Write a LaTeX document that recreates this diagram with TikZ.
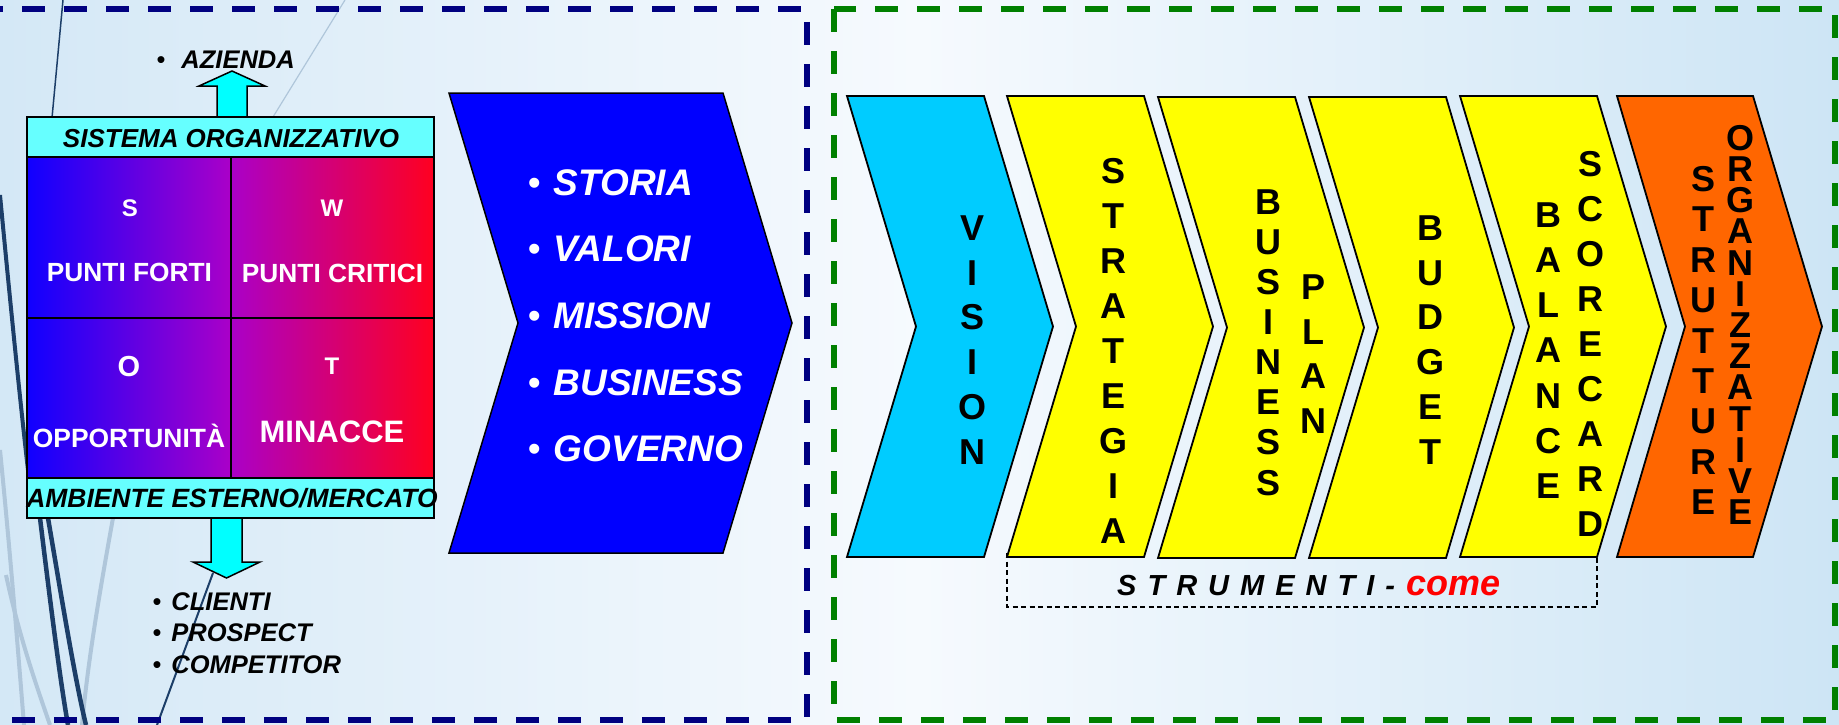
\documentclass[tikz,border=0pt]{standalone}
\usepackage{fontspec}
\setmainfont{Liberation Sans}
\definecolor{bgL}{RGB}{212,232,246}
\definecolor{bgM}{RGB}{246,250,254}
\definecolor{bgR}{RGB}{205,229,245}
\definecolor{navyd}{RGB}{0,0,128}
\definecolor{greend}{RGB}{0,128,0}
\definecolor{cyanbox}{RGB}{102,255,255}
\definecolor{cyanarrow}{RGB}{0,255,255}
\definecolor{visionc}{RGB}{0,204,255}
\definecolor{orangec}{RGB}{255,102,0}
\definecolor{yellowc}{RGB}{255,255,0}
\definecolor{bluec}{RGB}{0,0,255}
\definecolor{swotL}{RGB}{16,0,255}
\definecolor{swotM}{RGB}{170,0,200}
\definecolor{swotR}{RGB}{255,0,32}
\definecolor{decodark}{RGB}{28,62,104}
\definecolor{decolight}{RGB}{175,198,218}
\definecolor{redc}{RGB}{255,0,0}
\begin{document}
\begin{tikzpicture}[x=1pt,y=-1pt,
  chev/.style={draw=black,line width=1.8pt,line join=miter},
  vtxt/.style={font=\bfseries\fontsize{36}{#1}\selectfont,align=center,inner sep=0pt,text=black},
  capbox/.style={draw=black,line width=2pt,fill=cyanbox},
  capt/.style={font=\bfseries\itshape\fontsize{#1}{28}\selectfont,inner sep=0pt,anchor=base},
  swott/.style={font=\bfseries\fontsize{#1}{30}\selectfont,text=white,inner sep=0pt,anchor=base},
  listt/.style={font=\bfseries\itshape\fontsize{25.5}{30}\selectfont,inner sep=0pt,anchor=base west},
  biglist/.style={font=\bfseries\itshape\fontsize{37}{40}\selectfont,text=white,inner sep=0pt,anchor=base west},
  bigarrow/.style={draw=black,line width=1.5pt,fill=cyanarrow,line join=miter},
  frame/.style={line width=5.5pt,dash pattern=on 23pt off 19pt}
]
\useasboundingbox (0,0) rectangle (1839,725);
% background
\shade[left color=bgL,right color=bgR,middle color=bgM] (0,0) rectangle (1839,725);
% decorative lines
\draw[decolight,line width=4pt] (0,450) .. controls (10,550) and (18,650) .. (24,725);
\draw[decolight,line width=4pt] (6,575) .. controls (20,640) and (38,690) .. (50,725);
\draw[decolight,line width=4pt] (113,518) .. controls (100,590) and (88,660) .. (82,725);
\draw[decolight,line width=1.2pt] (345,0) -- (273,117);
\draw[decodark,line width=1.5pt] (63,0) -- (52,118);
\draw[decodark,line width=4pt] (0,195) .. controls (10,300) and (20,400) .. (28,470);
\draw[decodark,line width=4.5pt] (40,518) .. controls (50,600) and (60,680) .. (68,725);
\draw[decodark,line width=4.5pt] (48,518) .. controls (62,600) and (75,680) .. (86,725);
\draw[decodark,line width=2pt] (213,573) -- (157,725);
% frames
\draw[navyd,frame] (-20,9) -- (807,9) -- (807,720) -- (-20,720);
\draw[greend,frame] (834,9) rectangle (1835,720);
% SWOT
\draw[bigarrow] (217,118) -- (217,86) -- (199,86) -- (232,71) -- (265,86) -- (247,86) -- (247,118) -- cycle;
\draw[bigarrow] (211,517) -- (211,562) -- (193,562) -- (226.5,578) -- (260,562) -- (242,562) -- (242,517) -- cycle;
\draw[capbox] (27,117) rectangle (434,157);
\draw[capbox] (27,478) rectangle (434,518);
\shade[left color=swotL,right color=swotR,middle color=swotM] (27,157) rectangle (434,478);
\draw[line width=2.5pt] (27,157) rectangle (434,478);
\draw[line width=2.5pt] (231,157) -- (231,478);
\draw[line width=2.5pt] (27,318) -- (434,318);
\node[capt=26] (sis) at (231,147.3) {SISTEMA ORGANIZZATIVO};
\node[capt=26.4] (amb) at (232,507.7) {AMBIENTE ESTERNO/MERCATO};
\node[swott=24] (s) at (130,216.7) {S};
\node[swott=24] (w) at (332,216.7) {W};
\node[swott=29] (o) at (129,376) {O};
\node[swott=24] (t) at (332,374) {T};
\node[swott=26.3] (pf) at (129.5,281.7) {PUNTI FORTI};
\node[swott=26.3] (pc) at (332.5,282) {PUNTI CRITICI};
\node[swott=26.4] (op) at (129,447.3) {OPPORTUNITÀ};
\node[swott=31] (mi) at (332,442.7) {MINACCE};
\node[listt] (az) at (156.3,68.3) {{\upshape\mdseries\textbullet}\hspace{16pt}AZIENDA};
\node[listt] (cl) at (152.3,610) {{\upshape\mdseries\textbullet}\hspace{10pt}CLIENTI};
\node[listt] (pr) at (152.3,641.7) {{\upshape\mdseries\textbullet}\hspace{10pt}PROSPECT};
\node[listt] (co) at (152.3,673.3) {{\upshape\mdseries\textbullet}\hspace{10pt}COMPETITOR};
% blue chevron
\draw[chev,fill=bluec,line width=1.5pt] (449,93) -- (723,93) -- (792,323) -- (723,553) -- (449,553) -- (518,323) -- cycle;
\node[biglist] (st) at (527.7,195) {{\upshape\mdseries\textbullet}\hspace{13pt}STORIA};
\node[biglist] (va) at (527.7,261.7) {{\upshape\mdseries\textbullet}\hspace{13pt}VALORI};
\node[biglist] (mis) at (527.7,328.3) {{\upshape\mdseries\textbullet}\hspace{13pt}MISSION};
\node[biglist] (bu) at (527.7,395) {{\upshape\mdseries\textbullet}\hspace{13pt}BUSINESS};
\node[biglist] (go) at (527.7,461.7) {{\upshape\mdseries\textbullet}\hspace{13pt}GOVERNO};
% strumenti box (open top)
\draw[black,line width=1.2pt,dash pattern=on 5pt off 3.5pt] (1007,553) -- (1007,607) -- (1597,607) -- (1597,553);
% right chevrons
\draw[chev,fill=visionc] (847,96) -- (984,96) -- (1053,326.5) -- (984,557) -- (847,557) -- (916,326.5) -- cycle;
\draw[chev,fill=yellowc] (1007,96) -- (1144,96) -- (1213,326.5) -- (1144,557) -- (1007,557) -- (1076,326.5) -- cycle;
\draw[chev,fill=yellowc] (1158,97) -- (1295,97) -- (1364,327.5) -- (1295,558) -- (1158,558) -- (1227,327.5) -- cycle;
\draw[chev,fill=yellowc] (1309,97) -- (1446,97) -- (1514,327.5) -- (1446,558) -- (1309,558) -- (1378,327.5) -- cycle;
\draw[chev,fill=yellowc] (1460,96) -- (1597,96) -- (1666,326.5) -- (1597,557) -- (1460,557) -- (1529,326.5) -- cycle;
\draw[chev,fill=orangec] (1617,96) -- (1753,96) -- (1822,326.5) -- (1753,557) -- (1617,557) -- (1685,326.5) -- cycle;
% vertical texts
\node[vtxt=44.8] (vis) at (972,340) {V\\I\\S\\I\\O\\N};
\node[vtxt=45] (str) at (1113,351) {S\\T\\R\\A\\T\\E\\G\\I\\A};
\node[vtxt=40.1] (bus) at (1268,342.5) {B\\U\\S\\I\\N\\E\\S\\S};
\node[vtxt=44.7] (pla) at (1313,354) {P\\L\\A\\N};
\node[vtxt=44.8] (bud) at (1430,340) {B\\U\\D\\G\\E\\T};
\node[vtxt=45.2] (bal) at (1548,350.5) {B\\A\\L\\A\\N\\C\\E};
\node[vtxt=45] (sco) at (1590,344) {S\\C\\O\\R\\E\\C\\A\\R\\D};
\node[vtxt=40.4] (stu) at (1703,340.5) {S\\T\\R\\U\\T\\T\\U\\R\\E};
\node[vtxt=31.2] (org) at (1740,325) {O\\R\\G\\A\\N\\I\\Z\\Z\\A\\T\\I\\V\\E};
% strumenti label
\node[font=\bfseries\itshape\fontsize{29}{34}\selectfont,inner sep=0pt,anchor=base west] (stl) at (1117,595)
  {\spaceskip=11pt\relax S T R U M E N T I - \textcolor{redc}{\fontsize{36}{40}\selectfont come}};
\end{tikzpicture}
\end{document}
